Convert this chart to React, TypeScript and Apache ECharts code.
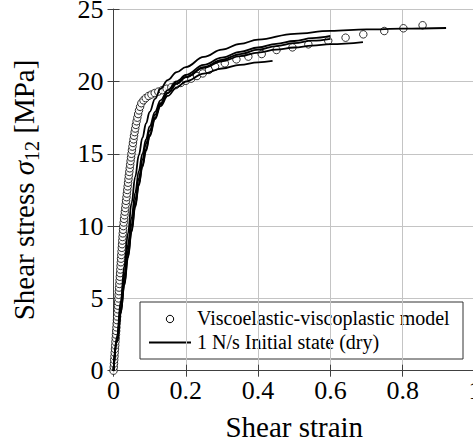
import React, { useEffect, useRef } from "react";
import * as echarts from "echarts";

const FONT = "Liberation Serif";

const xAxisName = "Shear strain";
const yAxisName = "Shear stress {i|σ}{sub|12} [MPa]";
const modelName = "Viscoelastic-viscoplastic model";
const expName = "1 N/s Initial state (dry)";

// Model (circles)
const modelStrain = [
  0, 0.0007, 0.0014, 0.002, 0.0027, 0.0034, 0.0041, 0.0047, 0.0054, 0.0061,
  0.0068, 0.0074, 0.0081, 0.0088, 0.0095, 0.0101, 0.0108, 0.0115, 0.0122, 0.0128,
  0.0135, 0.0142, 0.0149, 0.0155, 0.0162, 0.0169, 0.0176, 0.0182, 0.0189, 0.0196,
  0.0203, 0.0209, 0.0216, 0.0223, 0.023, 0.0237, 0.0243, 0.025, 0.0257, 0.0264,
  0.0271, 0.0282, 0.0293, 0.0304, 0.0315, 0.0326, 0.0337, 0.0348, 0.0359, 0.037,
  0.0381, 0.0392, 0.0403, 0.0414, 0.0425, 0.0437, 0.0449, 0.0461, 0.0473, 0.0485,
  0.0497, 0.051, 0.0524, 0.0538, 0.0553, 0.0568, 0.0584, 0.0601, 0.0619, 0.0639,
  0.066, 0.0682, 0.0705, 0.0735, 0.077, 0.083, 0.089, 0.097, 0.105, 0.114,
  0.124, 0.135, 0.147, 0.16, 0.172, 0.186, 0.2, 0.215, 0.231, 0.247,
  0.264, 0.281, 0.308, 0.34, 0.373, 0.41, 0.451, 0.495, 0.539, 0.594,
  0.642, 0.691, 0.749, 0.802, 0.855,
];
const modelStress = [
  0, 0.25, 0.5, 0.75, 1, 1.25, 1.5, 1.75, 2, 2.25,
  2.5, 2.75, 3, 3.25, 3.5, 3.75, 4, 4.25, 4.5, 4.75,
  5, 5.25, 5.5, 5.75, 6, 6.25, 6.5, 6.75, 7, 7.25,
  7.5, 7.75, 8, 8.25, 8.5, 8.75, 9, 9.25, 9.5, 9.75,
  10, 10.25, 10.5, 10.75, 11, 11.25, 11.5, 11.75, 12, 12.25,
  12.5, 12.75, 13, 13.25, 13.5, 13.75, 14, 14.25, 14.5, 14.75,
  15, 15.25, 15.5, 15.75, 16, 16.25, 16.5, 16.75, 17, 17.25,
  17.5, 17.75, 18, 18.25, 18.5, 18.7, 18.85, 19.0, 19.1, 19.2,
  19.3, 19.4, 19.5, 19.6, 19.75, 19.9, 20.05, 20.2, 20.38, 20.56,
  20.8, 21.03, 21.26, 21.53, 21.72, 21.9, 22.18, 22.36, 22.57, 22.82,
  23.03, 23.26, 23.49, 23.68, 23.89,
];

// Experimental curves (solid lines)
const curveAStrain = [0, 0.01, 0.02, 0.03, 0.04, 0.05, 0.06, 0.07, 0.08, 0.09, 0.1, 0.115, 0.13, 0.15, 0.175, 0.2, 0.25, 0.3, 0.35, 0.4, 0.5, 0.6, 0.7, 0.8, 0.92];
const curveAStress = [0, 2.4, 4.8, 7.2, 9.5, 11.6, 13.4, 14.9, 16.1, 17.1, 17.9, 18.8, 19.5, 20.1, 20.65, 21.0, 21.7, 22.2, 22.6, 22.9, 23.3, 23.5, 23.6, 23.65, 23.7];

const curveBStrain = [0, 0.01, 0.02, 0.03, 0.04, 0.05, 0.06, 0.07, 0.08, 0.09, 0.1, 0.115, 0.13, 0.15, 0.175, 0.2, 0.25, 0.3, 0.35, 0.4, 0.45, 0.5, 0.55, 0.6];
const curveBStress = [0, 2.2, 4.4, 6.6, 8.7, 10.6, 12.3, 13.8, 15.0, 16.0, 16.9, 17.9, 18.7, 19.4, 20.0, 20.45, 21.15, 21.65, 22.05, 22.35, 22.6, 22.8, 23.0, 23.15];

const curveCStrain = [0, 0.01, 0.02, 0.03, 0.04, 0.05, 0.06, 0.07, 0.08, 0.09, 0.1, 0.115, 0.13, 0.15, 0.175, 0.2, 0.25, 0.3, 0.35, 0.4, 0.45, 0.5, 0.55, 0.6];
const curveCStress = [0, 2.1, 4.2, 6.3, 8.3, 10.1, 11.8, 13.3, 14.6, 15.7, 16.6, 17.7, 18.5, 19.2, 19.85, 20.3, 21.0, 21.5, 21.9, 22.2, 22.45, 22.65, 22.82, 22.95];

const curveDStrain = [0, 0.01, 0.02, 0.03, 0.04, 0.05, 0.06, 0.07, 0.08, 0.09, 0.1, 0.115, 0.13, 0.15, 0.175, 0.2, 0.25, 0.3, 0.35, 0.4, 0.45, 0.5, 0.55, 0.6, 0.69];
const curveDStress = [0, 2.0, 4.0, 6.0, 7.9, 9.7, 11.4, 12.9, 14.2, 15.3, 16.3, 17.5, 18.4, 19.2, 19.85, 20.3, 20.95, 21.4, 21.75, 22.0, 22.2, 22.35, 22.48, 22.58, 22.72];

const curveEStrain = [0, 0.01, 0.02, 0.03, 0.04, 0.05, 0.06, 0.07, 0.08, 0.09, 0.1, 0.115, 0.13, 0.15, 0.175, 0.2, 0.25, 0.3, 0.35, 0.4, 0.44];
const curveEStress = [0, 2.0, 4.0, 5.9, 7.8, 9.6, 11.3, 12.8, 14.1, 15.2, 16.2, 17.4, 18.3, 19.0, 19.6, 20.0, 20.55, 20.9, 21.15, 21.32, 21.42];

const curves = [
  [curveAStrain, curveAStress],
  [curveBStrain, curveBStress],
  [curveCStrain, curveCStress],
  [curveDStrain, curveDStress],
  [curveEStrain, curveEStress],
];

const xMin = 0, xMax = 1, xStep = 0.2;
const yMin = 0, yMax = 25, yStep = 5;

const zip = (a: number[], b: number[]) => a.map((v, i) => [v, b[i]]);

export default function App() {
  const ref = useRef<HTMLDivElement>(null);
  useEffect(() => {
    if (!ref.current) return;
    const chart = echarts.init(ref.current, undefined, { renderer: "svg" });
    const axisColor = "#404040";
    const gridColor = "#c4c4c4";
    const baseAxis = {
      axisLine: { show: true, lineStyle: { color: axisColor, width: 1 } },
      axisTick: { show: true, inside: true, length: 6, lineStyle: { color: axisColor } },
    };
    const option: any = {
      animation: false,
      backgroundColor: "#ffffff",
      grid: {
        left: 113.5, top: 9.2, width: 361.5, height: 361.5,
        containLabel: false, outerBoundsMode: "none",
      },
      xAxis: [
        {
          type: "value", min: xMin, max: xMax, interval: xStep, position: "bottom",
          ...baseAxis,
          splitLine: { show: true, lineStyle: { color: gridColor, width: 1 } },
          axisLabel: { color: "#000", fontFamily: FONT, fontSize: 26, margin: 7, showMaxLabel: true },
          name: xAxisName, nameLocation: "middle", nameGap: 42,
          nameTextStyle: { color: "#000", fontFamily: FONT, fontSize: 29 },
        },
        {
          type: "value", min: xMin, max: xMax, interval: xStep, position: "top",
          ...baseAxis, splitLine: { show: false }, axisLabel: { show: false },
        },
      ],
      yAxis: [
        {
          type: "value", min: yMin, max: yMax, interval: yStep, position: "left",
          ...baseAxis,
          splitLine: { show: true, lineStyle: { color: gridColor, width: 1 } },
          axisLabel: { color: "#000", fontFamily: FONT, fontSize: 26, margin: 10 },
          name: yAxisName, nameLocation: "middle", nameGap: 72, nameRotate: 90,
          nameTextStyle: {
            color: "#000", fontFamily: FONT, fontSize: 29, lineHeight: 36,
            rich: {
              i: { fontFamily: FONT, fontSize: 29, fontStyle: "italic", color: "#000", lineHeight: 36 },
              sub: { fontFamily: FONT, fontSize: 20, color: "#000", lineHeight: 20, verticalAlign: "bottom" },
            },
          },
        },
        {
          type: "value", min: yMin, max: yMax, interval: yStep, position: "right",
          ...baseAxis, splitLine: { show: false }, axisLabel: { show: false },
        },
      ],
      series: [
        {
          name: modelName,
          type: "scatter",
          xAxisIndex: 0, yAxisIndex: 0,
          data: zip(modelStrain, modelStress),
          symbol: "circle",
          symbolSize: 7.5,
          itemStyle: { color: "#ffffff", borderColor: "#000000", borderWidth: 1 },
          z: 2,
        },
        ...curves.map(([xs, ys], i) => ({
          name: expName + (i === 0 ? "" : " " + i),
          type: "line",
          xAxisIndex: 0, yAxisIndex: 0,
          data: zip(xs, ys),
          showSymbol: false,
          symbol: "none",
          smooth: 0.4,
          smoothMonotone: "x",
          lineStyle: { color: "#000000", width: 1.8 },
          z: 3,
        })),
      ],
      graphic: [
        {
          type: "group",
          z: 100,
          children: [
            { type: "rect", shape: { x: 140, y: 302, width: 323, height: 57 }, style: { fill: "#ffffff", stroke: "#333333", lineWidth: 1 } },
            { type: "circle", shape: { cx: 170, cy: 319, r: 3.7 }, style: { fill: "#ffffff", stroke: "#000000", lineWidth: 1 } },
            { type: "line", shape: { x1: 149, y1: 342.5, x2: 191, y2: 342.5 }, style: { stroke: "#000000", lineWidth: 2 } },
            { type: "text", x: 197, y: 318, style: { text: modelName, fontFamily: FONT, fontSize: 20, fill: "#000", verticalAlign: "middle", align: "left" } },
            { type: "text", x: 197, y: 342, style: { text: expName, fontFamily: FONT, fontSize: 20, fill: "#000", verticalAlign: "middle", align: "left" } },
          ],
        },
      ],
    };
    chart.setOption(option);
    return () => chart.dispose();
  }, []);
  return (
    <div
      ref={ref}
      style={{ position: "absolute", left: 0, top: 0, width: 473, height: 446, background: "#fff" }}
    />
  );
}
